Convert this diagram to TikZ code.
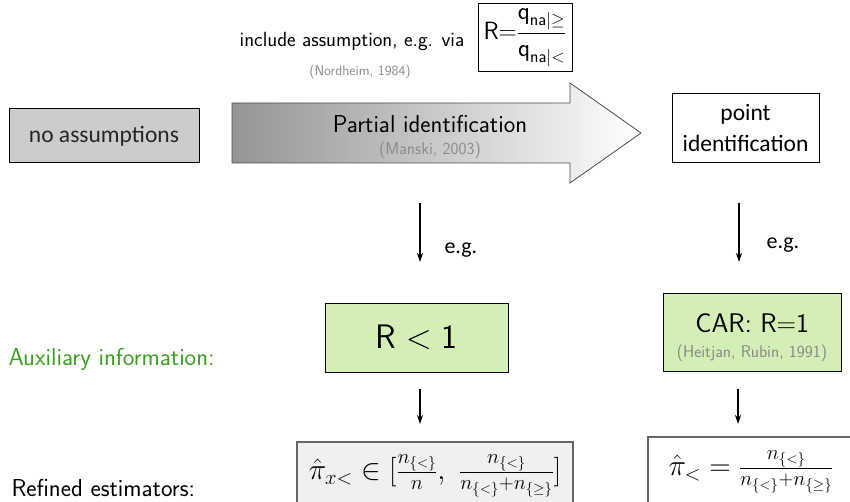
\RequirePackage{fix-cm}
\documentclass[tikz,border=0pt]{standalone}
\usepackage{amsmath}
\usepackage{fontspec}
\usepackage{tikz}
\usetikzlibrary{arrows.meta}

\newfontfamily\calfont{Carlito}

\definecolor{auxgreen}{RGB}{60,160,30}
\definecolor{boxgreen}{RGB}{212,239,182}
\definecolor{citegray}{RGB}{136,136,136}

\tikzset{
	plainbox/.style={draw=black, line width=1pt, inner sep=0pt, align=center},
	greenbox/.style={plainbox, fill=boxgreen},
	formbox/.style={draw=black!60, line width=1.5pt, inner sep=0pt},
	citetext/.style={text=citegray, font=\sffamily\fontsize{15}{17}\selectfont},
	downarrow/.style={-{Stealth[length=9pt,width=6pt]}, line width=1.4pt},
	egtext/.style={font=\calfont\fontsize{22}{26}\selectfont, anchor=west},
}

\begin{document}
\begin{tikzpicture}[x=1pt,y=-1pt]

		\useasboundingbox (0,0) rectangle (850,502);
		\clip (0,0) rectangle (850,502);

		% the shaded arrow in the middle
		\shade[left color=black!42, right color=white, draw=black!70, line width=0.8pt]
			(232,103) -- (570,103) -- (570,83) -- (641,133) -- (570,183) -- (570,163) -- (232,163) -- cycle;
		\node[font=\sffamily\fontsize{24.5}{28}\selectfont] (partial) at (430,124) {Partial identification};
		\node[citetext, text=black!45, font=\sffamily\fontsize{17}{19}\selectfont] (manski) at (430,150) {(Manski, 2003)};

		\node[plainbox, fill=black!20, minimum width=190pt, minimum height=54pt,
			font=\calfont\fontsize{23.5}{28}\selectfont, text=black!85] (noass) at (104,136) {no assumptions};
		\node[plainbox, fill=white, minimum width=147pt, minimum height=69pt,
			font=\calfont\fontsize{23.5}{31}\selectfont] (point) at (745.5,128.5) {point\\identification};

		\node[font=\sffamily\fontsize{20.5}{24}\selectfont] (include) at (352,41) {include assumption, e.g. via};
		\node[citetext, font=\sffamily\fontsize{14}{16}\selectfont] (nordheim) at (360,72) {(Nordheim, 1984)};
		\node[plainbox, minimum width=94pt, minimum height=68pt, font=\sffamily\fontsize{25}{28}\selectfont]
			(rbox) at (525,38) {R$=$$\dfrac{\textsf{q}_{\textsf{na}|\geq}}{\textsf{q}_{\textsf{na}|<}}$};

		\coordinate (d1) at (420,203);
		\coordinate (d2) at (420,262);
		\coordinate (d3) at (739,203);
		\coordinate (d4) at (739,262);
		\path[downarrow] (d1) edge (d2);
		\path[downarrow] (d3) edge (d4);
		\node[egtext] (egl) at (441,250) {e.g.};
		\node[egtext] (egr) at (763,245) {e.g.};

		\node[font=\sffamily\fontsize{24.5}{28}\selectfont, text=auxgreen, anchor=west] (aux) at (5,359) {Auxiliary information:};
		\node[greenbox, minimum width=183pt, minimum height=69pt, font=\sffamily\fontsize{34}{38}\selectfont]
			(rless) at (416.5,337.5) {$\textsf{R}<\textsf{1}$};
		\node[greenbox, minimum width=178pt, minimum height=78pt] (car) at (752,332) {};
		\node[font=\sffamily\fontsize{27}{30}\selectfont] (cartext) at (752,323) {CAR: R$=$1};
		\node[citetext, font=\sffamily\fontsize{17}{19}\selectfont] (heitjan) at (752,353) {(Heitjan, Rubin, 1991)};

		\coordinate (d5) at (420,389);
		\coordinate (d6) at (420,424);
		\coordinate (d7) at (738,389);
		\coordinate (d8) at (738,424);
		\path[downarrow] (d5) edge (d6);
		\path[downarrow] (d7) edge (d8);

		\node[font=\sffamily\fontsize{24.5}{28}\selectfont, anchor=west] (refined) at (8,488) {Refined estimators:};
		\node[formbox, fill=black!6, minimum width=276pt, minimum height=68pt, font=\fontsize{29.5}{34}\selectfont]
			(estl) at (435,476) {$\hat{\pi}_{x<}\in[\frac{n_{\{<\}}}{n},\ \frac{n_{\{<\}}}{n_{\{<\}}+n_{\{\geq\}}}]$};
		\node[formbox, fill=white, minimum width=206pt, minimum height=70pt, font=\fontsize{29.5}{34}\selectfont]
			(estr) at (751,472) {$\hat{\pi}_{<}=\frac{n_{\{<\}}}{n_{\{<\}}+n_{\{\geq\}}}$};

\end{tikzpicture}
\end{document}
